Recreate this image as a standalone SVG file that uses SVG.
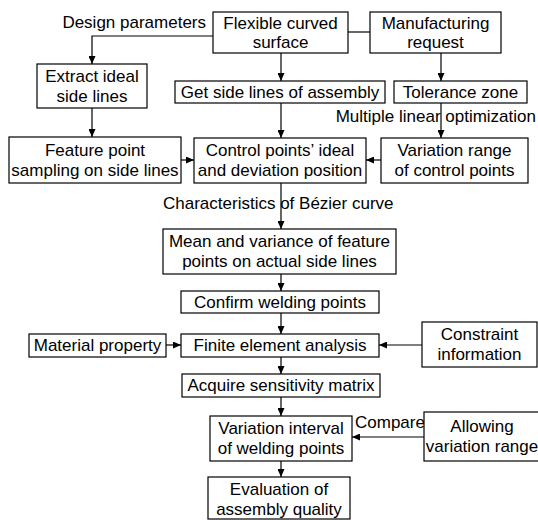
<svg xmlns="http://www.w3.org/2000/svg" width="538" height="520" viewBox="0 0 538 520">
<defs>
<marker id="ah" markerWidth="8" markerHeight="7" refX="8" refY="3.5" orient="auto" markerUnits="userSpaceOnUse">
<path d="M0,0 L8,3.5 L0,7 z" fill="#000"/>
</marker>
<style>
rect{fill:#fff;stroke:#000;stroke-width:1.2}
text{font-family:"Liberation Sans",Arial,sans-serif;font-size:17px;fill:#000;text-anchor:middle}
.c line,.c path{stroke:#000;stroke-width:1.2;fill:none}
.a{marker-end:url(#ah)}
</style>
</defs>
<rect x="0" y="0" width="538" height="520" style="fill:#fff;stroke:none"/>
<g class="c">
<path class="a" d="M213,36 H92 V64"/>
<line x1="348" y1="32" x2="370" y2="32"/>
<line class="a" x1="281" y1="53" x2="281" y2="81"/>
<line class="a" x1="441" y1="53" x2="441" y2="81"/>
<line class="a" x1="92" y1="108" x2="92" y2="137"/>
<line class="a" x1="281" y1="103" x2="281" y2="138"/>
<line class="a" x1="441" y1="103" x2="441" y2="138"/>
<line class="a" x1="181" y1="160" x2="194" y2="160"/>
<line class="a" x1="381" y1="160" x2="366" y2="160"/>
<line class="a" x1="281" y1="183" x2="281" y2="229"/>
<line class="a" x1="281" y1="274" x2="281" y2="291"/>
<line class="a" x1="281" y1="313" x2="281" y2="334"/>
<line class="a" x1="166" y1="345" x2="181" y2="345"/>
<line class="a" x1="422" y1="345" x2="379" y2="345"/>
<line class="a" x1="281" y1="357" x2="281" y2="374"/>
<line class="a" x1="281" y1="397" x2="281" y2="416"/>
<line class="a" x1="424" y1="437" x2="352" y2="437"/>
<line class="a" x1="281" y1="461" x2="281" y2="477"/>
</g>
<g id="labels">
<text x="206" y="28" style="text-anchor:end">Design parameters</text>
<text x="536" y="122" style="text-anchor:end">Multiple linear optimization</text>
<text x="163" y="209" style="text-anchor:start">Characteristics of Bézier curve</text>
<text x="355" y="428" style="text-anchor:start">Compare</text>
</g>
<g id="flexible"><rect x="213" y="12" width="135" height="41"/><text x="280.5" y="29">Flexible curved</text><text x="280.5" y="48">surface</text></g>
<g id="manufacturing"><rect x="370" y="12" width="131" height="41"/><text x="435.5" y="29">Manufacturing</text><text x="435.5" y="48">request</text></g>
<g id="extract"><rect x="37" y="64" width="110" height="44"/><text x="92" y="82">Extract ideal</text><text x="92" y="102">side lines</text></g>
<g id="getside"><rect x="175" y="81" width="210" height="22"/><text x="280" y="98">Get side lines of assembly</text></g>
<g id="tolerance"><rect x="394" y="81" width="133" height="22"/><text x="460.5" y="98">Tolerance zone</text></g>
<g id="feature"><rect x="9" y="137" width="172" height="46"/><text x="95" y="156">Feature point</text><text x="95" y="176">sampling on side lines</text></g>
<g id="control"><rect x="194" y="138" width="172" height="45"/><text x="280" y="156">Control points’ ideal</text><text x="280" y="176">and deviation position</text></g>
<g id="varrange"><rect x="381" y="138" width="147" height="45"/><text x="454.5" y="156">Variation range</text><text x="454.5" y="176">of control points</text></g>
<g id="mean"><rect x="163" y="229" width="233" height="45"/><text x="279.5" y="247">Mean and variance of feature</text><text x="279.5" y="267">points on actual side lines</text></g>
<g id="confirm"><rect x="181" y="291" width="198" height="22"/><text x="280" y="308">Confirm welding points</text></g>
<g id="material"><rect x="29" y="334" width="137" height="23"/><text x="97.5" y="351">Material property</text></g>
<g id="finite"><rect x="181" y="334" width="198" height="23"/><text x="280" y="351">Finite element analysis</text></g>
<g id="constraint"><rect x="422" y="322" width="115" height="45"/><text x="479.5" y="340">Constraint</text><text x="479.5" y="360">information</text></g>
<g id="acquire"><rect x="182" y="374" width="198" height="23"/><text x="281" y="391">Acquire sensitivity matrix</text></g>
<g id="interval"><rect x="210" y="416" width="142" height="45"/><text x="281" y="434">Variation interval</text><text x="281" y="454">of welding points</text></g>
<g id="allowing"><rect x="424" y="412" width="116" height="49"/><text x="482" y="432">Allowing</text><text x="482" y="452">variation range</text></g>
<g id="evaluation"><rect x="208" y="477" width="142" height="42"/><text x="279" y="495">Evaluation of</text><text x="279" y="515">assembly quality</text></g>
</svg>
